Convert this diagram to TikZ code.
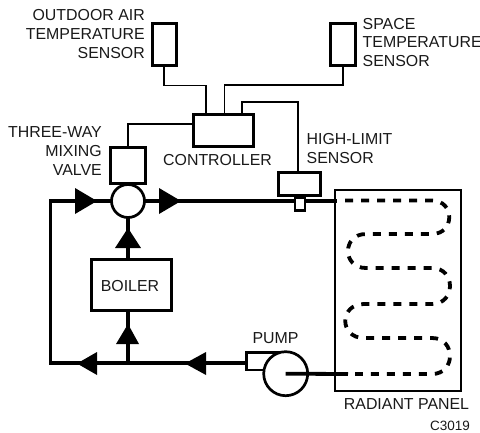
\documentclass[tikz,border=0pt]{standalone}
\usepackage{fontspec}
\setmainfont{Liberation Sans}
\begin{document}
\begin{tikzpicture}[x=1pt,y=-1pt,
  box/.style={draw=black,fill=white,line width=2.7pt,inner sep=0pt,minimum width=#1},
  box/.default=0pt,
  wire/.style={line width=1.7pt,line join=miter},
  pipe/.style={line width=3.8pt,line join=miter},
  coil/.style={line width=3.8pt,dash pattern=on 8pt off 8pt},
  tip/.style={fill=black,draw=none},
  lab/.style={inner sep=0pt,font=\fontsize{15.9}{18}\selectfont,text=black!90},
  code/.style={inner sep=0pt,font=\fontsize{13.5}{16}\selectfont,text=black!90}]
\useasboundingbox (0,0) rectangle (480,432);

% pipes (below the equipment)
\coordinate (pipeNW) at (50.5,201);
\coordinate (pipeSW) at (50.5,363);
\coordinate (pipeEnd) at (337,201);
\coordinate (pumpInlet) at (247,363);
\coordinate (tee) at (128,363);
\coordinate (coilStart) at (345,200.5);
\coordinate (coilEnd) at (348,374);

% panel
\node[draw=black,line width=2.2pt,inner sep=0pt,minimum width=126pt,minimum height=201pt] (panel) at (398,290.5) {};

\draw[pipe] (pumpInlet) -- (pipeSW) -- (pipeNW) -- (pipeEnd);
\draw[pipe] (tee) -- (128,201);

% serpentine coil
\draw[coil] (coilStart) -- (432,200.5)
  .. controls (455,200.5) and (455,234) .. (432,234) -- (366,234)
  .. controls (342,234) and (342,268) .. (366,268) -- (432,268)
  .. controls (456,268) and (456,304) .. (432,304) -- (364,304)
  .. controls (339,304) and (339,338) .. (364,338) -- (432,338)
  .. controls (456,338) and (456,374) .. (432,374) -- (355,374);

% equipment
\node[box,minimum width=24pt,minimum height=42pt] (outdoor) at (164.3,44.5) {};
\node[box,minimum width=24.5pt,minimum height=42pt] (space) at (343,44.5) {};
\node[box,minimum width=60pt,minimum height=32pt] (controller) at (223.5,130.5) {};
\node[box,minimum width=35pt,minimum height=36pt] (valve) at (128,165.5) {};
\node[box,circle,minimum width=33pt] (mix) at (128,201) {};
\node[box,minimum width=80pt,minimum height=51pt] (boiler) at (131.5,285) {};
\node[box,minimum width=42pt,minimum height=23pt] (limit) at (299.5,184) {};
\node[draw=black,fill=white,line width=2.2pt,inner sep=0pt,minimum width=10pt,minimum height=13pt] (well) at (300,204) {};

% pump
\coordinate (pumpBoxTL) at (246.5,352.5);
\coordinate (pumpBoxBL) at (246.5,370);
\draw[line width=2.7pt,fill=white] (286,352.5) -- (pumpBoxTL) -- (pumpBoxBL) -- (268,370);
\node[box,circle,minimum width=44pt] (pump) at (285.7,373.7) {};
\draw[pipe] (pump.center) -- (coilEnd);

% wires
\draw[wire] (outdoor.south) -- ++(0,18.5) -| (206,114);
\draw[wire] (space.south) |- (224.5,85) -- (224.5,114);
\draw[wire] (242,114) -- (242,102) -| (limit.north -| 298,0);
\draw[wire] (193.5,124) -| (valve.north);

% arrowheads
\fill[tip] (75,188) -- (97,201) -- (75,214) -- cycle;
\fill[tip] (159,188) -- (181,201) -- (159,214) -- cycle;
\fill[tip] (128,228) -- (141,248) -- (115,248) -- cycle;
\fill[tip] (128,324) -- (139,344) -- (116,344) -- cycle;
\fill[tip] (77,363.5) -- (97,352) -- (97,375) -- cycle;
\fill[tip] (185,363.5) -- (206,352) -- (206,375) -- cycle;

% labels
\node[lab,anchor=base east] (t1) at (145,20.7) {OUTDOOR AIR};
\node[lab,anchor=base east] (t2) at (145,39.5) {TEMPERATURE};
\node[lab,anchor=base east] (t3) at (145,58) {SENSOR};
\node[lab,anchor=base west] (t4) at (362.5,29) {SPACE};
\node[lab,anchor=base west] (t5) at (362.5,47.3) {TEMPERATURE};
\node[lab,anchor=base west] (t6) at (362.5,66) {SENSOR};
\node[lab,anchor=base east] (t7) at (102,137.7) {THREE-WAY};
\node[lab,anchor=base east] (t8) at (102,156.7) {MIXING};
\node[lab,anchor=base east] (t9) at (102,175.7) {VALVE};
\node[lab,anchor=base west] (t10) at (163,165.7) {CONTROLLER};
\node[lab,anchor=base west] (t11) at (306.5,144.3) {HIGH-LIMIT};
\node[lab,anchor=base west] (t12) at (306.5,163) {SENSOR};
\node[lab,anchor=base] (t13) at (130,291) {BOILER};
\node[lab,anchor=base] (t14) at (275.5,343) {PUMP};
\node[lab,anchor=base] (t15) at (406.5,409) {RADIANT PANEL};
\node[code,anchor=base east] (t16) at (470,430) {C3019};
\end{tikzpicture}
\end{document}
